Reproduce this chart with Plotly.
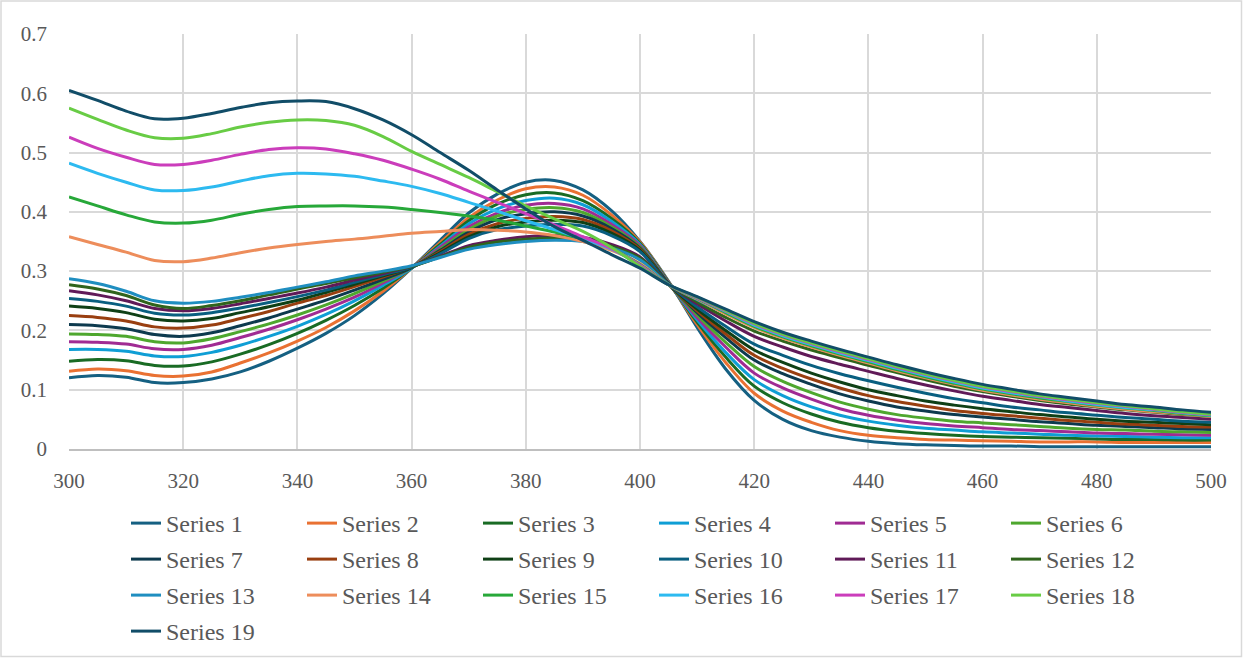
import plotly.graph_objects as go

wavelength = list(range(300, 505, 5))

series_1 = [.120, .124, .121, .112, .112, .118, .130, .148, .170, .195, .225, .262, .305, .352, .398, .430, .450, .453, .437, .402, .350,
            .283, .205, .135, .082, .050, .031, .020, .013, .009, .007, .006, .005, .005, .004, .004, .004, .004, .004, .004, .004]
series_2 = [.131, .135, .132, .124, .123, .130, .145, .162, .182, .205, .233, .266, .305, .348, .390, .420, .439, .442, .428, .395, .349,
            .282, .210, .146, .094, .064, .045, .031, .023, .019, .016, .015, .014, .013, .012, .012, .012, .011, .011, .011, .011]
series_3 = [.148, .151, .149, .141, .140, .147, .160, .176, .195, .217, .242, .271, .305, .345, .385, .413, .429, .432, .419, .389, .347,
            .281, .214, .155, .106, .078, .059, .045, .036, .030, .026, .023, .021, .020, .019, .018, .017, .016, .016, .015, .015]
series_4 = [.168, .168, .165, .157, .156, .163, .175, .190, .207, .227, .250, .276, .305, .342, .380, .405, .419, .423, .412, .384, .345,
            .280, .218, .163, .117, .090, .071, .057, .047, .040, .035, .032, .029, .027, .025, .023, .022, .021, .020, .019, .019]
series_5 = [.181, .180, .177, .169, .168, .175, .188, .202, .218, .236, .256, .280, .306, .340, .375, .398, .411, .414, .405, .379, .343,
            .280, .222, .172, .128, .103, .084, .068, .057, .049, .043, .039, .036, .033, .031, .029, .027, .026, .025, .024, .023]
series_6 = [.194, .193, .190, .181, .179, .186, .198, .211, .226, .243, .262, .283, .306, .337, .370, .393, .404, .407, .399, .375, .341,
            .279, .226, .180, .139, .114, .095, .079, .067, .058, .052, .047, .044, .041, .038, .035, .033, .032, .030, .029, .028]
series_7 = [.210, .208, .203, .193, .190, .196, .208, .221, .236, .251, .268, .286, .306, .335, .366, .387, .397, .400, .393, .372, .339,
            .279, .230, .188, .150, .127, .109, .093, .081, .071, .064, .058, .054, .050, .046, .043, .040, .038, .036, .034, .033]
series_8 = [.225, .222, .216, .206, .204, .209, .220, .232, .246, .259, .274, .290, .307, .333, .362, .380, .389, .392, .387, .368, .337,
            .278, .233, .194, .158, .136, .118, .103, .090, .080, .072, .065, .060, .056, .052, .048, .045, .042, .040, .038, .037]
series_9 = [.241, .237, .230, .219, .216, .220, .230, .240, .251, .264, .278, .292, .307, .331, .358, .375, .383, .386, .382, .364, .335,
            .278, .236, .200, .167, .146, .128, .113, .100, .090, .081, .074, .068, .063, .058, .054, .050, .047, .045, .043, .041]
series_10 = [.254, .249, .241, .229, .226, .230, .238, .247, .257, .268, .281, .294, .307, .329, .355, .370, .376, .379, .376, .360, .333,
             .278, .240, .207, .177, .158, .141, .127, .115, .104, .094, .085, .078, .071, .066, .061, .057, .053, .050, .047, .045]
series_11 = [.267, .260, .250, .237, .233, .237, .245, .254, .263, .273, .285, .296, .308, .325, .343, .352, .358, .360, .357, .345, .324,
             .278, .245, .216, .190, .172, .156, .143, .131, .119, .108, .098, .089, .082, .075, .070, .065, .060, .056, .053, .050]
series_12 = [.277, .270, .259, .243, .237, .242, .250, .260, .270, .279, .289, .298, .308, .324, .340, .349, .354, .356, .353, .342, .322,
             .278, .248, .222, .199, .182, .167, .154, .141, .129, .117, .106, .097, .089, .082, .076, .071, .066, .062, .058, .055]
series_13 = [.287, .279, .266, .250, .246, .249, .256, .264, .273, .282, .292, .300, .309, .323, .337, .345, .350, .352, .350, .339, .319,
             .278, .252, .229, .208, .191, .176, .162, .149, .136, .123, .112, .102, .094, .087, .081, .076, .071, .067, .062, .058]
series_14 = [.358, .345, .332, .318, .316, .322, .331, .339, .345, .350, .354, .359, .364, .367, .370, .369, .366, .360, .350, .335, .313,
             .277, .253, .228, .205, .187, .172, .158, .145, .132, .120, .109, .099, .091, .084, .078, .072, .067, .063, .059, .055]
series_15 = [.425, .410, .395, .383, .381, .386, .396, .404, .409, .410, .410, .408, .404, .399, .393, .386, .376, .366, .354, .338, .311,
             .277, .254, .230, .207, .189, .174, .160, .147, .134, .122, .111, .101, .093, .086, .080, .074, .069, .065, .060, .056]
series_16 = [.482, .465, .450, .437, .436, .442, .452, .461, .465, .464, .460, .452, .443, .431, .416, .401, .385, .370, .354, .337, .310,
             .277, .255, .232, .209, .191, .176, .162, .149, .136, .124, .113, .103, .095, .088, .081, .075, .070, .066, .061, .057]
series_17 = [.526, .507, .492, .480, .480, .487, .497, .505, .508, .506, .498, .487, .472, .455, .435, .416, .397, .378, .358, .338, .310,
             .277, .255, .233, .211, .193, .178, .164, .151, .138, .126, .115, .105, .097, .089, .083, .077, .072, .067, .062, .058]
series_18 = [.575, .556, .538, .525, .524, .532, .543, .551, .555, .554, .546, .527, .502, .480, .458, .434, .410, .388, .367, .340, .308,
             .277, .256, .234, .212, .194, .179, .165, .152, .139, .127, .116, .106, .098, .090, .084, .078, .073, .068, .063, .059]
series_19 = [.605, .588, .570, .557, .558, .566, .576, .584, .587, .586, .574, .555, .530, .500, .470, .437, .405, .375, .352, .328, .305,
             .277, .257, .236, .215, .197, .182, .168, .155, .142, .130, .119, .109, .101, .093, .087, .081, .075, .071, .066, .062]

series_names = [f"Series {i}" for i in range(1, 20)]
series_values = [series_1, series_2, series_3, series_4, series_5, series_6, series_7, series_8, series_9,
                 series_10, series_11, series_12, series_13, series_14, series_15, series_16, series_17,
                 series_18, series_19]
colors = ["#156082", "#E97132", "#196B24", "#0F9ED5", "#A02B93", "#4EA72E",
          "#0D3A4E", "#993F10", "#0F4016", "#095F80", "#601A58", "#2F641C",
          "#1F8EC0", "#ED8D5B", "#27A839", "#2DBAF0", "#CB3DBB", "#68CC45",
          "#114D68"]

W, H = 1243, 658
L, R, T = 69, 32, 34
ph = 415
B = H - T - ph
pw = W - L - R
AX_BOTTOM = T + ph  # 449

legend_ids = ["legend", "legend2", "legend3", "legend4"]

fig = go.Figure()
for i, (name, vals, col) in enumerate(zip(series_names, series_values, colors)):
    fig.add_trace(go.Scatter(x=wavelength, y=vals, name=name, mode="lines", legend=legend_ids[i // 6],
                             line=dict(color=col, width=3, shape="spline", smoothing=1.0)))

font_family = "'Liberation Serif', 'Times New Roman', Tinos, 'Nimbus Roman', 'DejaVu Serif', serif"
tick_font = dict(size=21, family=font_family, color="#595959")

legend_tops = [501, 537, 573, 609]
legend_common = dict(orientation="h", x=(126 - L) / pw, xanchor="left", yanchor="top",
                     entrywidth=131, entrywidthmode="pixels",
                     font=dict(size=24, family=font_family, color="#595959"),
                     bgcolor="rgba(0,0,0,0)", traceorder="normal")

fig.update_layout(
    width=W, height=H,
    margin=dict(l=L, r=R, t=T, b=B, autoexpand=False),
    paper_bgcolor="white", plot_bgcolor="white",
    font=dict(family=font_family, color="#595959", size=20),
    xaxis=dict(range=[300, 500], dtick=20, tick0=300, showgrid=True, gridcolor="#D9D9D9", gridwidth=1.5,
               zeroline=False, showline=True, linecolor="#BFBFBF", linewidth=1.5,
               ticks="", ticklabelstandoff=12, tickfont=tick_font),
    yaxis=dict(range=[0, 0.7], dtick=0.1, tick0=0, showgrid=True, gridcolor="#D9D9D9", gridwidth=1.5,
               zeroline=False, showline=False, ticks="", ticklabelstandoff=21, tickfont=tick_font),
    showlegend=True,
    shapes=[dict(type="rect", xref="paper", yref="paper",
                 x0=(1 - L) / pw, x1=(W - 1.5 - L) / pw, y0=(AX_BOTTOM - (H - 1.5)) / ph, y1=(AX_BOTTOM - 1) / ph,
                 line=dict(color="#D9D9D9", width=1.5), fillcolor="rgba(0,0,0,0)", layer="below")],
)
for lid, top in zip(legend_ids, legend_tops):
    fig.update_layout({lid: dict(legend_common, y=(AX_BOTTOM - top) / ph)})

# remove the browser's default 8px body margin so the figure fills the window exactly
fig.write_html("out.html", config={"displayModeBar": False},
               post_script="document.body.style.margin='0';document.body.style.overflow='hidden';")
